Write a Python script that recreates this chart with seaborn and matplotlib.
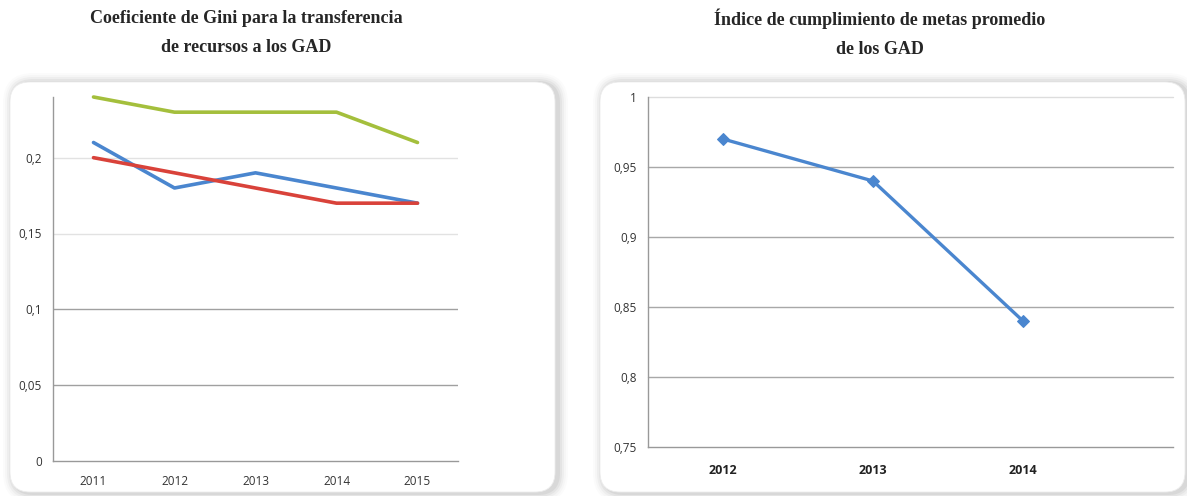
import matplotlib
matplotlib.use("Agg")
import matplotlib.pyplot as plt
from matplotlib.patches import FancyBboxPatch
import seaborn as sns
import pandas as pd

# ------------------------------------------------------------
# Data
# ------------------------------------------------------------
gini_years = ["2011", "2012", "2013", "2014", "2015"]
gini_green = [0.24, 0.23, 0.23, 0.23, 0.21]
gini_blue = [0.21, 0.18, 0.19, 0.18, 0.17]
gini_red = [0.20, 0.19, 0.18, 0.17, 0.17]
gini_yticks = [0, 0.05, 0.1, 0.15, 0.2]
gini_ylabels = ["0", "0,05", "0,1", "0,15", "0,2"]

metas_years = ["2012", "2013", "2014"]
metas_values = [0.97, 0.94, 0.84]
metas_yticks = [0.75, 0.8, 0.85, 0.9, 0.95, 1.0]
metas_ylabels = ["0,75", "0,8", "0,85", "0,9", "0,95", "1"]

title_left = "Coeficiente de Gini para la transferencia\nde recursos a los GAD"
title_right = "Índice de cumplimiento de metas promedio\nde los GAD"

# ------------------------------------------------------------
# Style
# ------------------------------------------------------------
sns.set_style("white")
plt.rcParams["font.family"] = ["Open Sans", "DejaVu Sans"]

W, H = 1187, 496
fig = plt.figure(figsize=(W / 100, H / 100), dpi=100)

def fx(px):
    return px / W

def fy(py):
    return 1 - py / H

# background layer in pixel units (y down) for the rounded panels
bg = fig.add_axes([0, 0, 1, 1], zorder=-1)
bg.set_xlim(0, W)
bg.set_ylim(H, 0)
bg.axis("off")
for x0, x1 in [(10, 555), (600, 1185)]:
    # soft shadow, a bit stronger to the right
    for pad, a in [(10, 0.015), (8, 0.02), (6, 0.03), (4, 0.04), (2, 0.05)]:
        bg.add_patch(FancyBboxPatch((x0 + 3, 82 + 1), x1 - x0, 410,
                                    boxstyle=f"round,pad={pad},rounding_size={20 + pad}",
                                    facecolor="black", alpha=a, edgecolor="none"))
    bg.add_patch(FancyBboxPatch((x0, 82), x1 - x0, 410,
                                boxstyle="round,pad=0,rounding_size=20",
                                facecolor="white", edgecolor="#ececec", linewidth=0.6))

title_font = dict(family="Liberation Serif", weight="bold", fontsize=13,
                  ha="center", va="center", linespacing=1.95)
fig.text(fx(246), fy(33), title_left, **title_font)
fig.text(fx(880), fy(33), title_right, **title_font)

# ------------------------------------------------------------
# Left chart: Gini
# ------------------------------------------------------------
ax1 = fig.add_axes([fx(53), fy(461), fx(458) - fx(53), fy(97) - fy(461)])
ax1.set_facecolor("none")

df_gini = pd.DataFrame({
    "x": list(range(len(gini_years))) * 3,
    "valor": gini_green + gini_blue + gini_red,
    "serie": ["verde"] * 5 + ["azul"] * 5 + ["rojo"] * 5,
})
palette_gini = {"verde": "#a4bf3c", "azul": "#4a86cf", "rojo": "#d9423a"}

for ytk, col in zip(gini_yticks[1:], ["#a0a0a0", "#a0a0a0", "#e2e2e2", "#e2e2e2"]):
    ax1.axhline(ytk, color=col, linewidth=1.0, zorder=0)

sns.lineplot(data=df_gini, x="x", y="valor", hue="serie", palette=palette_gini,
             linewidth=2.6, legend=False, ax=ax1, clip_on=False)

ax1.set_xlim(-0.5, len(gini_years) - 0.5)
ax1.set_ylim(0, 0.24)
ax1.set_yticks(gini_yticks)
ax1.set_yticklabels(gini_ylabels)
ax1.set_xticks(range(len(gini_years)))
ax1.set_xticklabels(gini_years)
ax1.set_xticks([i - 0.5 for i in range(len(gini_years) + 1)], minor=True)
ax1.tick_params(axis="x", which="major", length=0, pad=10, labelsize=8.5, labelcolor="#333333")
ax1.tick_params(axis="x", which="minor", length=4, color="#999999", direction="out")
ax1.tick_params(axis="y", length=4, color="#999999", direction="out", pad=4,
                labelsize=8.5, labelcolor="#333333")
ax1.set_xlabel("")
ax1.set_ylabel("")
for s in ["top", "right"]:
    ax1.spines[s].set_visible(False)
for s in ["left", "bottom"]:
    ax1.spines[s].set_color("#999999")
    ax1.spines[s].set_linewidth(1.0)

# ------------------------------------------------------------
# Right chart: Metas (cut off at the right edge, as in the source)
# ------------------------------------------------------------
ax2 = fig.add_axes([fx(648), fy(447), fx(1173) - fx(648), fy(97) - fy(447)])
ax2.set_facecolor("none")

df_metas = pd.DataFrame({"x": list(range(len(metas_years))), "valor": metas_values})

for ytk in metas_yticks[1:]:
    ax2.axhline(ytk, color="#a8a8a8" if ytk < 1 else "#dddddd",
                linewidth=1.0, zorder=0, clip_on=False)

sns.lineplot(data=df_metas, x="x", y="valor", color="#4a86cf", linewidth=2.4,
             marker="D", markersize=6, markeredgecolor="#4a86cf", ax=ax2)

ax2.set_xlim(-0.5, 3.0)
ax2.set_ylim(0.75, 1.0)
ax2.set_yticks(metas_yticks)
ax2.set_yticklabels(metas_ylabels)
ax2.set_xticks(range(len(metas_years)))
ax2.set_xticklabels(metas_years, fontweight="bold")
ax2.set_xticks([i - 0.5 for i in range(len(metas_years) + 1)], minor=True)
ax2.tick_params(axis="x", which="major", length=0, pad=12, labelsize=9, labelcolor="#222222")
ax2.tick_params(axis="x", which="minor", length=4, color="#999999", direction="out")
ax2.tick_params(axis="y", length=4, color="#999999", direction="out", pad=4,
                labelsize=8.5, labelcolor="#333333")
ax2.set_xlabel("")
ax2.set_ylabel("")
for s in ["top", "right"]:
    ax2.spines[s].set_visible(False)
for s in ["left", "bottom"]:
    ax2.spines[s].set_color("#999999")
    ax2.spines[s].set_linewidth(1.0)

fig.savefig("out.png", dpi=100)
